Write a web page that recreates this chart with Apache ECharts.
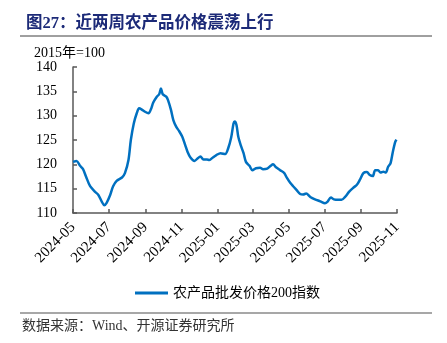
<!DOCTYPE html>
<html><head><meta charset="utf-8">
<script src="https://cdn.jsdelivr.net/npm/echarts@6/dist/echarts.min.js"></script>
<style>html,body{margin:0;padding:0;background:#fff}#c{width:447px;height:343px}</style>
</head><body><div id="c"></div>
<script>
const titleText = '图27：近两周农产品价格震荡上行';
const unitText = '2015年=100';
const sourceText = '数据来源：Wind、开源证券研究所';
const seriesName = '农产品批发价格200指数';
const dates = ['2024-05-01','2024-05-07','2024-05-13','2024-05-18','2024-05-23','2024-05-30','2024-06-07','2024-06-13','2024-06-19','2024-06-23','2024-06-27','2024-07-03','2024-07-08','2024-07-14','2024-07-23','2024-07-28','2024-08-03','2024-08-07','2024-08-12','2024-08-17','2024-08-21','2024-08-25','2024-08-31','2024-09-06','2024-09-10','2024-09-14','2024-09-20','2024-09-24','2024-09-27','2024-09-30','2024-10-06','2024-10-09','2024-10-14','2024-10-18','2024-10-23','2024-10-28','2024-11-02','2024-11-07','2024-11-11','2024-11-16','2024-11-23','2024-11-28','2024-12-03','2024-12-08','2024-12-14','2024-12-18','2024-12-24','2024-12-30','2025-01-06','2025-01-14','2025-01-19','2025-01-24','2025-01-28','2025-01-30','2025-02-02','2025-02-05','2025-02-09','2025-02-14','2025-02-18','2025-02-24','2025-03-01','2025-03-07','2025-03-14','2025-03-19','2025-03-26','2025-04-01','2025-04-05','2025-04-10','2025-04-17','2025-04-24','2025-04-28','2025-05-04','2025-05-09','2025-05-15','2025-05-21','2025-05-26','2025-05-31','2025-06-07','2025-06-15','2025-06-24','2025-07-02','2025-07-06','2025-07-12','2025-07-17','2025-07-25','2025-07-30','2025-08-05','2025-08-12','2025-08-19','2025-08-25','2025-08-30','2025-09-05','2025-09-11','2025-09-16','2025-09-21','2025-09-25','2025-09-30','2025-10-04','2025-10-09','2025-10-13','2025-10-17','2025-10-21','2025-10-25','2025-10-29','2025-10-31'];
const values = [120.5,120.7,119.7,119.0,117.5,115.5,114.4,113.7,112.3,111.6,112.1,113.7,115.5,116.6,117.3,118.2,120.9,125.0,128.4,130.5,131.5,131.3,130.8,130.5,131.3,132.7,133.9,134.4,135.6,134.4,133.9,133.2,131.2,129.1,127.7,126.8,125.7,124.0,122.6,121.4,120.7,121.2,121.6,121.0,121.0,120.9,121.4,121.9,122.3,122.1,123.3,125.5,128.4,128.8,128.1,125.7,124.0,122.3,120.5,119.7,118.8,119.2,119.3,119.0,119.1,119.7,120.0,119.4,118.8,118.2,117.3,116.2,115.5,114.7,113.9,113.8,114.0,113.3,112.8,112.4,112.0,112.3,113.2,112.8,112.7,112.7,113.3,114.4,115.2,115.8,116.8,118.2,118.4,117.8,117.6,118.8,118.8,118.3,118.5,118.3,119.5,120.2,122.6,124.6,125.1];
const xTickLabels = ['2024-05','2024-07','2024-09','2024-11','2025-01','2025-03','2025-05','2025-07','2025-09','2025-11'];
const yMin = 110, yMax = 140, yStep = 5;

const chart = echarts.init(document.getElementById('c'), null, {renderer:'canvas'});
const serif = '"Liberation Serif","Times New Roman","Noto Sans CJK SC",serif';
const toTs = s => Date.UTC(+s.slice(0,4), +s.slice(5,7)-1, s.length > 7 ? +s.slice(8,10) : 1);
const data = dates.map((d,i)=>[toTs(d), values[i]]);
const tickTimes = xTickLabels.map(toTs);
const labelOf = {};
tickTimes.forEach((t,i)=>{labelOf[t]=xTickLabels[i];});
chart.setOption({
  animation:false,
  title:{text:titleText, left:21, top:10, textStyle:{fontFamily:'"Liberation Serif","Noto Sans CJK SC",serif', fontWeight:'bold', fontSize:16.5, color:'#1c2a78'}},
  graphic:[
    {type:'line', shape:{x1:20,y1:36,x2:432,y2:36}, style:{stroke:'#404040', lineWidth:1}},
    {type:'line', shape:{x1:20,y1:313,x2:432,y2:313}, style:{stroke:'#8a8a8a', lineWidth:1.5}},
    {type:'text', left:34, top:46, style:{text:unitText, font:'14px ' + serif, fill:'#000'}},
    {type:'text', left:22, top:319, style:{text:sourceText, font:'14px "Liberation Serif","Noto Sans CJK SC",serif', fill:'#333'}}
  ],
  legend:{show:true, left:130, top:281, itemWidth:33, itemHeight:3, itemGap:5, icon:'rect',
    textStyle:{fontFamily:'"Liberation Serif","Noto Sans CJK SC",serif', fontSize:14, color:'#000'}},
  grid:{left:73, right:50, top:67, bottom:130, containLabel:false},
  xAxis:{type:'value', min:tickTimes[0], max:tickTimes[tickTimes.length-1],
    axisLine:{lineStyle:{color:'#595959', width:1.5}},
    axisTick:{show:true, inside:true, length:4, lineStyle:{color:'#595959', width:1.5},
      customValues: tickTimes},
    axisLabel:{rotate:45, fontFamily:serif, fontSize:15, color:'#000', margin:12, hideOverlap:false,
      customValues: tickTimes,
      formatter:(v)=> labelOf[v] || ''},
    splitLine:{show:false}},
  yAxis:{type:'value', min:yMin, max:yMax, interval:yStep,
    axisLine:{show:true, lineStyle:{color:'#595959', width:1.5}},
    axisTick:{show:true, inside:true, length:4, lineStyle:{color:'#595959', width:1.5}},
    axisLabel:{fontFamily:serif, fontSize:14, color:'#000', margin:16},
    splitLine:{show:false}},
  series:[{name:seriesName, type:'line', data:data, showSymbol:false, smooth:0.3,
    lineStyle:{color:'#0070C0', width:2.5}, itemStyle:{color:'#0070C0'}}]
});
</script></body></html>
